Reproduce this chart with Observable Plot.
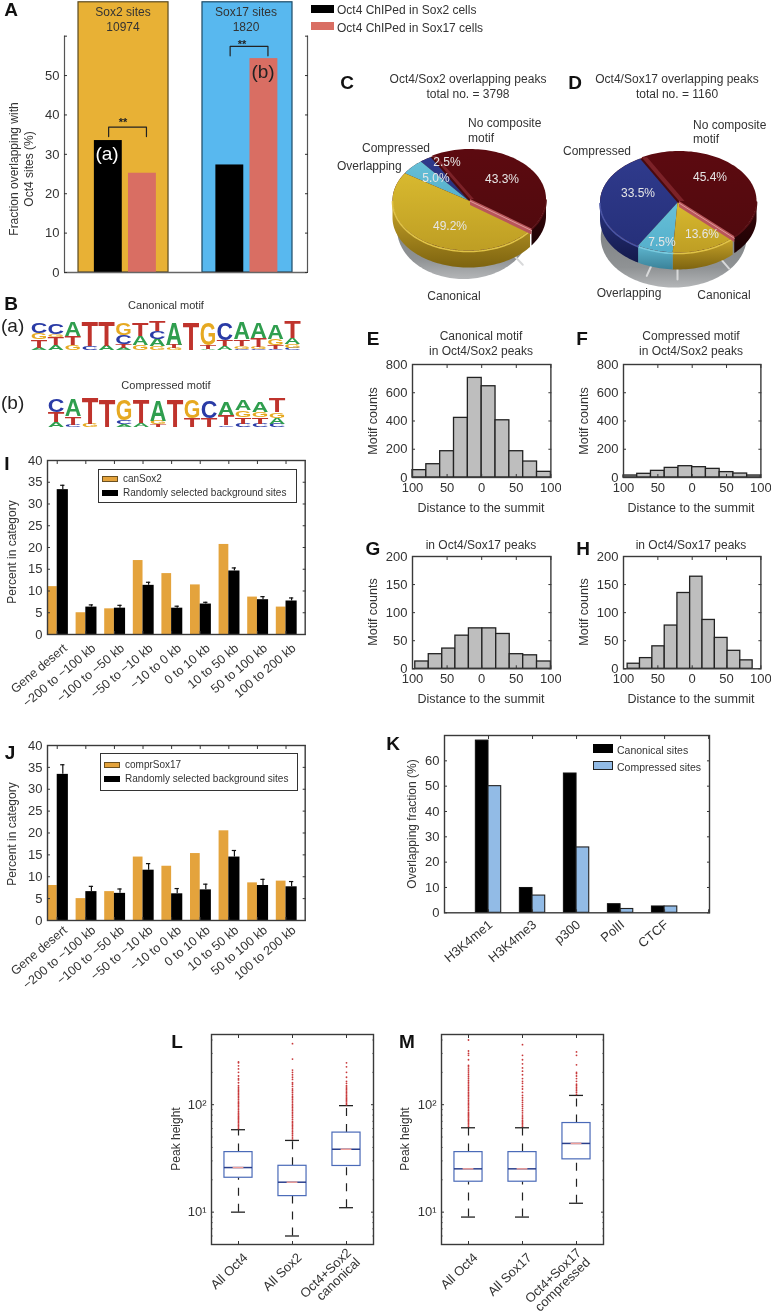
<!DOCTYPE html>
<html>
<head>
<meta charset="utf-8">
<script src="https://cdn.jsdelivr.net/npm/d3@7"></script>
<script src="https://cdn.jsdelivr.net/npm/@observablehq/plot@0.6"></script>
<style>
html,body{margin:0;padding:0;background:#fff}
#page{position:relative;width:772px;height:1314px;overflow:hidden;font-family:"Liberation Sans",Arial,sans-serif;color:#333;filter:blur(0.45px)}
#page svg{position:absolute;max-width:none;background:transparent}
.t{position:absolute;white-space:nowrap;line-height:1}
.b{position:absolute;box-sizing:border-box}
</style>
</head>
<body>
<div id="page"></div>
<script>
// ---------- data ----------
const aGroups = ["Sox2 sites", "Sox17 sites"];
const aSizes = ["10974", "1820"];
const aBlack = [33.5, 27.3];
const aRed = [25.2, 54.3];
const aBracketTop = [36.9, 57.4];
const aBracketBase = [34.5, 55];

const pieCValues = [49.2, 5.0, 2.5, 43.3];
const pieDValues = [13.6, 7.5, 33.5, 45.4];

const logoA = [
 [["C",32],["G",20],["T",25],["A",8]],
 [["C",32],["G",8],["T",25],["A",16]],
 [["A",44],["T",28],["G",15]],
 [["T",75],["C",12]],
 [["T",75],["A",14]],
 [["G",36],["C",27],["T",11],["A",8]],
 [["T",40],["A",28],["G",15]],
 [["T",30],["C",22],["A",22],["G",13]],
 [["A",66],["T",10],["G",7]],
 [["T",85]],
 [["G",68],["T",10],["A",5]],
 [["C",50],["T",18],["A",13]],
 [["A",50],["T",20],["G",8],["C",5]],
 [["A",46],["T",27],["G",6],["C",5]],
 [["A",45],["G",20],["T",10],["C",5]],
 [["T",50],["A",20],["G",10],["C",8]]
];
const logoB = [
 [["C",40],["T",30],["A",15]],
 [["A",53],["T",25],["C",7]],
 [["T",78],["G",10]],
 [["T",85]],
 [["G",62],["C",12],["A",8]],
 [["T",73],["A",12]],
 [["A",62],["G",10],["T",8]],
 [["T",85]],
 [["G",56],["T",27]],
 [["C",52],["T",27]],
 [["A",40],["T",30],["C",5]],
 [["A",30],["G",20],["T",20],["C",10]],
 [["A",33],["G",15],["T",20],["C",10]],
 [["T",43],["G",17],["A",18],["C",10]]
];

const genomicCats = ["Gene desert","\u2212200 to \u2212100 kb","\u2212100 to \u221250 kb","\u221250 to \u221210 kb","\u221210 to 0 kb","0 to 10 kb","10 to 50 kb","50 to 100 kb","100 to 200 kb"];
const iOrange = [11, 5, 5.9, 17, 14, 11.4, 20.7, 8.6, 6.3];
const iBlack = [33.3, 6.3, 6.05, 11.3, 6.05, 7, 14.6, 8, 7.7];
const iErr = [34.3, 6.8, 6.7, 12, 6.5, 7.4, 15.3, 8.7, 8.4];
const jOrange = [8, 5, 6.6, 14.5, 12.4, 15.3, 20.5, 8.6, 9];
const jBlack = [33.4, 6.6, 6.2, 11.5, 6.1, 7, 14.5, 8, 7.7];
const jErr = [35.6, 7.8, 7.2, 13, 7.3, 8.3, 16, 9.4, 8.9];

const eEdges = [-100,-80,-60,-40,-20,0,20,40,60,80,100];
const eCounts = [52,94,186,422,705,646,405,186,113,40];
const fEdges = [-100,-80,-60,-40,-20,0,20,40,60,80,100];
const fCounts = [14,26,47,68,80,73,61,38,28,14];
const gEdges = [-96,-76.5,-57,-38,-18.5,1,21,40.5,60,80,100];
const gCounts = [13,26,36,59,72,72,62,26,24,13];
const hEdges = [-94,-76,-58,-40,-21.5,-3,15,33,51.5,70,88];
const hCounts = [9,19,40,77,135,164,87,55,32,15];

const kCats = ["H3K4me1","H3K4me3","p300","PolII","CTCF"];
const kCanonical = [68, 9.8, 55, 3.4, 2.5];
const kCompressed = [50, 6.8, 25.8, 1.5, 2.5];

const lCats = ["All Oct4","All Sox2","Oct4+Sox2\ncanonical"];
const lQ1 = [20.9, 14.1, 26.9], lMed = [26, 19, 38.5], lQ3 = [36.2, 27, 55], lLo = [10, 6, 11], lHi = [58.5, 46.5, 98];
const lOut = [
 [60,62,64,66,68,70,72,74,76,78,80,82,84,87,90,93,96,99,102,105,108,112,116,120,124,128,132,136,140,145,150,160,170,175,185,200,215,230,245,250],
 [48,50,52,54,56,58,60,62,64,66,68,70,73,76,79,82,85,88,91,94,97,100,104,108,112,116,120,125,130,135,140,148,155,160,172,180,190,200,210,266,370],
 [100,103,106,109,112,115,118,122,126,130,134,138,142,146,150,158,165,180,200,225,245]
];
const mCats = ["All Oct4","All Sox17","Oct4+Sox17\ncompressed"];
const mQ1 = [19.2, 19.2, 31], mMed = [25.3, 25.3, 43.6], mQ3 = [36.2, 36.2, 67.5], mLo = [9, 9, 12.1], mHi = [61, 61, 122];
const mOut = [
 [63,65,67,69,71,73,75,77,79,81,83,85,88,91,94,97,100,103,106,110,114,118,122,126,130,135,140,145,150,156,162,168,175,182,190,198,206,215,225,232,262,288,300,316,400],
 [63,65,67,69,71,74,77,80,84,88,92,96,100,105,110,116,122,130,140,148,158,165,175,190,205,220,240,262,288,362],
 [125,130,135,140,145,150,155,165,175,185,195,200,235,288,310]
];

// ---------- helpers ----------
const page = document.getElementById("page");
const INK = "#333";
function label(text, x, y, o = {}) {
  const d = document.createElement("div");
  d.className = "t";
  d.textContent = text;
  const tx = o.anchor === "middle" ? "-50%" : o.anchor === "end" ? "-100%" : "0";
  d.style.cssText += `left:${x}px;top:${y}px;font-size:${o.size || 12}px;color:${o.color || INK};font-weight:${o.weight || "normal"};transform:translate(${tx},-50%);`;
  page.appendChild(d);
}
function vlabel(text, x, y, size = 12) {
  const d = document.createElement("div");
  d.className = "t";
  d.textContent = text;
  d.style.cssText += `left:${x}px;top:${y}px;font-size:${size}px;color:${INK};transform:translate(-50%,-50%) rotate(-90deg);`;
  page.appendChild(d);
}
const letter = (s, x, y) => label(s, x, y, {size: 19, weight: "bold", color: "#111", anchor: "middle"});
function box(x, y, w, h, fill, stroke) {
  const d = document.createElement("div");
  d.className = "b";
  d.style.cssText += `left:${x}px;top:${y}px;width:${w}px;height:${h}px;background:${fill};${stroke ? `border:1.2px solid ${stroke};` : ""}`;
  page.appendChild(d);
}
function panel(frame, scales, marks, m = {}) {
  const [l, t, r, b] = frame;
  const ml = m.left ?? 50, mr = m.right ?? 10, mt = m.top ?? 6, mb = m.bottom ?? 90;
  const p = Plot.plot({
    width: r - l + ml + mr, height: b - t + mt + mb,
    marginLeft: ml, marginRight: mr, marginTop: mt, marginBottom: mb,
    x: {axis: null, ...scales.x}, y: {axis: null, ...scales.y},
    style: {fontFamily: '"Liberation Sans",Arial,sans-serif', background: "transparent", color: INK},
    marks
  });
  p.style.left = (l - ml) + "px";
  p.style.top = (t - mt) + "px";
  page.appendChild(p);
  return p;
}
function frameAxes({xTicks, yTicks, yLabelTicks, yFormat, xFormat, yMinor, fontSize = 13, pad = 5, xPad = 6, size = -3}) {
  const out = [];
  for (const anchor of ["left", "right"]) out.push(Plot.axisY({anchor, ticks: yTicks, tickSize: size, text: null, label: null, stroke: INK}));
  for (const anchor of ["bottom", "top"]) out.push(Plot.axisX({anchor, ticks: xTicks, tickSize: size, text: null, label: null, stroke: INK}));
  if (yMinor) for (const anchor of ["left", "right"]) out.push(Plot.axisY({anchor, ticks: yMinor, tickSize: -1.5, text: null, label: null, stroke: INK}));
  out.push(Plot.axisY({anchor: "left", ticks: yLabelTicks || yTicks, tickSize: 0, tickPadding: pad, label: null, fontSize, tickFormat: yFormat || (d => d), fill: INK}));
  if (xFormat) out.push(Plot.axisX({anchor: "bottom", ticks: xTicks, tickSize: 0, tickPadding: xPad, label: null, fontSize, tickFormat: xFormat, fill: INK}));
  out.push(Plot.frame({stroke: "#3a3a3a", strokeWidth: 1.4}));
  return out;
}
const rotLabels = (cats, xs, dx, dy, fontSize = 12, rotate = -42) => Plot.text(cats, {
  x: (d, i) => xs[i], frameAnchor: "bottom", text: d => d, rotate, textAnchor: "end",
  lineAnchor: "middle", dx, dy, fontSize, fill: INK
});

// ---------- panel A ----------
(function () {
  const groupCentres = [0, 1];
  const barCentres = [0.01, 0.99];
  const rows = aGroups.map((g, i) => ({g, box: groupCentres[i], c: barCentres[i], black: aBlack[i], red: aRed[i], top: aBracketTop[i], base: aBracketBase[i]}));
  const boxColours = ["#E8B135", "#58B8EF"], boxEdges = ["#5a4a20", "#1c4a66"];
  const bracket = rows.flatMap((r, i) => [
    {i, x: r.c - 0.13, y: r.base}, {i, x: r.c - 0.13, y: r.top}, {i, x: r.c + 0.175, y: r.top}, {i, x: r.c + 0.175, y: r.base}
  ]);
  panel([64, 1, 307, 272], {x: {type: "linear", domain: [-0.476, 1.484]}, y: {domain: [0, 68.8]}}, [
    Plot.rect(rows, {x1: d => d.box - 0.363, x2: d => d.box + 0.363, y1: 0, y2: 68.6, fill: (d, i) => boxColours[i], stroke: (d, i) => boxEdges[i], strokeWidth: 1.2}),
    Plot.rect(rows, {x1: d => d.c - 0.245, x2: d => d.c - 0.02, y1: 0, y2: "black", fill: "#000"}),
    Plot.rect(rows, {x1: d => d.c + 0.03, x2: d => d.c + 0.255, y1: 0, y2: "red", fill: "#D96E63"}),
    Plot.line(bracket, {x: "x", y: "y", z: "i", stroke: "#222", strokeWidth: 1.2}),
    Plot.ruleX([-0.476, 1.484], {y1: 0, y2: 60, stroke: "#555", strokeWidth: 1.2}),
    Plot.ruleY([0], {stroke: "#666", strokeWidth: 1.5}),
    Plot.axisY({anchor: "left", ticks: [0,10,20,30,40,50,60], tickSize: -3, text: null, label: null, stroke: "#333"}),
    Plot.axisY({anchor: "right", ticks: [0,10,20,30,40,50,60], tickSize: -3, text: null, label: null, stroke: "#333"}),
    Plot.axisY({anchor: "left", ticks: [0,10,20,30,40,50], tickSize: 0, tickPadding: 5, label: null, fontSize: 13, fill: INK})
  ], {left: 30, bottom: 12, top: 1});
  letter("A", 11, 9);
  label(aGroups[0], 123, 12, {anchor: "middle"});
  label(aSizes[0], 123, 27, {anchor: "middle"});
  label(aGroups[1], 246, 12, {anchor: "middle"});
  label(aSizes[1], 246, 27, {anchor: "middle"});
  label("**", 123, 122, {anchor: "middle", size: 11, weight: "bold", color: "#222"});
  label("**", 242, 44, {anchor: "middle", size: 11, weight: "bold", color: "#222"});
  label("(a)", 107, 153, {anchor: "middle", size: 19, color: "#fff"});
  label("(b)", 263, 71, {anchor: "middle", size: 19, color: "#222"});
  vlabel("Fraction overlapping with", 14, 169);
  vlabel("Oct4 sites (%)", 29, 169);
  box(311, 5, 23, 8, "#000");
  box(311, 22, 23, 8, "#D96E63");
  label("Oct4 ChIPed in Sox2 cells", 337, 9.5);
  label("Oct4 ChIPed in Sox17 cells", 337, 27.5);
})();

// ---------- panel B ----------
function logo(cols, x0, colW, baseY, topY, units) {
  const colours = {A: "#2F9E4E", C: "#2A3BA6", G: "#E6A921", T: "#BF332C"};
  const widths = {A: 0.722, C: 0.722, G: 0.778, T: 0.611};
  const rows = cols.flatMap((stack, c) => {
    let y = 0;
    return [...stack].reverse().map(([l, h]) => {
      const r = {c, l, y0: y, h};
      y += h;
      return r;
    });
  });
  const fs = 20, pxPerUnit = (baseY - topY) / units;
  const p = panel([x0, topY, x0 + colW * cols.length, baseY], {
    x: {type: "linear", domain: [0, cols.length]}, y: {domain: [0, units]}
  }, [
    Plot.text(rows, {x: d => d.c + 0.5, y: "y0", text: "l", fill: d => colours[d.l], fontSize: fs, fontWeight: "bold", textAnchor: "middle", lineAnchor: "bottom"})
  ], {left: 6, right: 6, top: 6, bottom: 6});
  const texts = p.querySelectorAll("text");
  rows.forEach((r, k) => {
    const t = texts[k];
    const sx = colW * 0.98 / (widths[r.l] * fs);
    const sy = r.h * pxPerUnit / (0.72 * fs);
    t.setAttribute("transform", `${t.getAttribute("transform") || ""} scale(${sx.toFixed(3)},${sy.toFixed(3)})`);
  });
}
logo(logoA, 30, 16.9, 350, 320, 90);
logo(logoB, 46.7, 17, 426.5, 397, 88);
letter("B", 11, 303);
label("(a)", 1, 325, {size: 19, color: "#222"});
label("(b)", 1, 402, {size: 19, color: "#222"});
label("Canonical motif", 166, 305, {anchor: "middle", size: 11});
label("Compressed motif", 166, 385, {anchor: "middle", size: 11});

// ---------- panels C, D ----------
function pie(values, cfg) {
  const {cx, cy, rx, ry, depth, start, shadow, leaders, colours} = cfg;
  const rad = Math.PI / 180;
  const pt = (a, ox = 0, oy = 0) => ({x: Math.cos(a * rad) + ox, y: Math.sin(a * rad) + oy});
  const arc = (a0, a1, ox = 0, oy = 0) => {
    const n = Math.max(2, Math.ceil((a1 - a0) / 2));
    return d3.range(n + 1).map(i => pt(a0 + (a1 - a0) * i / n, ox, oy));
  };
  let acc = start;
  const slices = values.map((v, i) => {
    const a0 = acc;
    acc += v * 3.6;
    return {i, a0, a1: acc};
  });
  const red = slices[3];
  const off = s => s.i === 3 ? [cfg.explode[0], cfg.explode[1]] : [0, 0];
  const marks = [];
  const poly = (pts, fill) => marks.push(Plot.line(pts, {x: "x", y: "y", fill, stroke: "none"}));
  const gid = cfg.id;
  marks.push(() => {
    const svgNS = "http://www.w3.org/2000/svg";
    const defs = document.createElementNS(svgNS, "defs");
    const grad = (id, stops) => {
      const g = document.createElementNS(svgNS, "linearGradient");
      g.setAttribute("id", id); g.setAttribute("x1", 0); g.setAttribute("y1", 0); g.setAttribute("x2", 0); g.setAttribute("y2", 1);
      stops.forEach(([o, c]) => {
        const s = document.createElementNS(svgNS, "stop");
        s.setAttribute("offset", o); s.setAttribute("stop-color", c);
        g.appendChild(s);
      });
      defs.appendChild(g);
    };
    grad(gid + "shadow", [[0, "#6f7274"], [0.8, "#8f9294"], [1, "#b4b6b8"]]);
    colours.forEach((c, i) => grad(gid + "w" + i, [[0, c.wall[0]], [1, c.wall[1]]]));
    colours.forEach((c, i) => grad(gid + "t" + i, [[0, c.top[0]], [1, c.top[1]]]));
    return defs;
  });
  // shadow
  poly(arc(0, 360).map(p => ({x: shadow.x + (p.x) * shadow.rx, y: shadow.y + p.y})), `url(#${gid}shadow)`);
  marks.push(Plot.line(leaders.flatMap((a, k) => [
    {k, x: Math.cos(a * rad), y: Math.sin(a * rad) + depth},
    {k, x: Math.cos(a * rad) * 1.16, y: Math.sin(a * rad) * 1.2 + depth}
  ]), {x: "x", y: "y", z: "k", stroke: "#d8d9da", strokeWidth: 2}));
  // walls
  slices.forEach(s => {
    const [ox, oy] = off(s);
    for (const [lo, hi] of [[0, 180], [360, 540]]) {
      const a0 = Math.max(s.a0, lo), a1 = Math.min(s.a1, hi);
      if (a1 <= a0) continue;
      const topEdge = arc(a0, a1, ox, oy);
      const low = arc(a0, a1, ox, oy + depth).reverse();
      poly([...topEdge, ...low], `url(#${gid}w${s.i})`);
    }
  });
  // dark base under the tops, so the gap left by the exploded slice is closed
  poly(arc(0, 360), "#4a0a0e");
  // tops
  [3, 2, 1, 0].forEach(i => {
    const s = slices[i];
    const [ox, oy] = off(s);
    poly([{x: ox, y: oy}, ...arc(s.a0, s.a1, ox, oy)], `url(#${gid}t${i})`);
  });
  // front rim highlights
  slices.forEach(s => {
    const [ox, oy] = off(s);
    for (const [lo, hi] of [[0, 180], [360, 540]]) {
      const a0 = Math.max(s.a0, lo), a1 = Math.min(s.a1, hi);
      if (a1 <= a0) continue;
      marks.push(Plot.line(arc(a0, a1, ox, oy + 0.02), {x: "x", y: "y", stroke: colours[s.i].rim, strokeWidth: 1.6}));
    }
  });
  // cut faces of the exploded slice
  const [ox, oy] = cfg.explode;
  const rimA = pt(red.a1, ox, oy), c = {x: ox, y: oy};
  poly([c, rimA, {x: rimA.x, y: rimA.y + cfg.cut}, {x: c.x, y: c.y + cfg.cut}], "#B9565B");
  marks.push(Plot.line([{x: c.x, y: c.y + cfg.cut * 0.35}, {x: rimA.x, y: rimA.y + cfg.cut * 0.35}], {x: "x", y: "y", stroke: "#DE9A9A", strokeWidth: 1}));
  const rimB = pt(red.a0, ox, oy);
  poly([c, rimB, {x: rimB.x + cfg.band, y: rimB.y}, {x: c.x + cfg.band, y: c.y}], "#7C2228");
  const pad = 95;
  panel([cx - pad, cy - 60, cx + pad, cy + 95], {
    x: {type: "linear", domain: [-pad / rx, pad / rx]},
    y: {type: "linear", domain: [-60 / ry, 95 / ry], reverse: true}
  }, marks, {left: 0, right: 0, top: 0, bottom: 0});
}
const pieColours = [
  {top: ["#D8B92F", "#BE9E24"], wall: ["#C9A52A", "#7E6410"], rim: "#E0C347"},
  {top: ["#66C0D8", "#55AFCB"], wall: ["#5FB6CF", "#3A8299"], rim: "#7ACBDF"},
  {top: ["#2F3A8C", "#26307A"], wall: ["#2A347F", "#141A4C"], rim: "#4A55A5"},
  {top: ["#5C0A10", "#520A0E"], wall: ["#3A060A", "#1C0204"], rim: "#5A1015"}
];
pie(pieCValues, {id: "c", cx: 468, cy: 200, rx: 76, ry: 50, depth: 0.34, start: 36, colours: pieColours,
  shadow: {x: -0.065, y: 0.57, rx: 0.875}, leaders: [52], explode: [0.02, -0.03], cut: 0.12, band: 0.05});
pie(pieDValues, {id: "d", cx: 677, cy: 202, rx: 77.5, ry: 50, depth: 0.34, start: 44.6, colours: pieColours,
  shadow: {x: -0.05, y: 0.7, rx: 0.94}, leaders: [55, 90, 110], explode: [0.02, -0.03], cut: 0.12, band: 0.07});
letter("C", 347, 82);
letter("D", 575, 82);
label("Oct4/Sox2 overlapping peaks", 468, 79, {anchor: "middle"});
label("total no. = 3798", 468, 94, {anchor: "middle"});
label("Oct4/Sox17 overlapping peaks", 677, 79, {anchor: "middle"});
label("total no. = 1160", 677, 94, {anchor: "middle"});
label("No composite", 468, 123);
label("motif", 468, 138);
label("Compressed", 362, 148);
label("Overlapping", 337, 166);
label("Canonical", 454, 296, {anchor: "middle"});
label("No composite", 693, 125);
label("motif", 693, 139);
label("Compressed", 563, 151);
label("Overlapping", 629, 293, {anchor: "middle"});
label("Canonical", 724, 295, {anchor: "middle"});
const pctC = ["49.2%", "5.0%", "2.5%", "43.3%"], pctCx = [450, 436, 447, 502], pctCy = [226, 178, 162, 179];
pctC.forEach((s, i) => label(s, pctCx[i], pctCy[i], {anchor: "middle", color: "#e6e6e6"}));
const pctD = ["13.6%", "7.5%", "33.5%", "45.4%"], pctDx = [702, 662, 638, 710], pctDy = [234, 242, 193, 177];
pctD.forEach((s, i) => label(s, pctDx[i], pctDy[i], {anchor: "middle", color: "#e6e6e6"}));

// ---------- panels E-H ----------
function hist(frame, edges, counts, yMax, yTicks) {
  const rows = counts.map((n, i) => ({x1: edges[i], x2: edges[i + 1], n}));
  panel(frame, {x: {type: "linear", domain: [-100, 100]}, y: {domain: [0, yMax]}}, [
    Plot.rect(rows, {x1: "x1", x2: "x2", y1: 0, y2: "n", fill: "#BEBEBE", stroke: "#222", strokeWidth: 1.3}),
    ...frameAxes({xTicks: [-100,-50,0,50,100], yTicks, xFormat: d => Math.abs(d), fontSize: 13, pad: 5, xPad: 5})
  ], {bottom: 30});
}
hist([412.3, 364.3, 550.7, 477.3], eEdges, eCounts, 800, [0,200,400,600,800]);
hist([623.3, 364.3, 760.7, 477.3], fEdges, fCounts, 800, [0,200,400,600,800]);
hist([412.3, 556, 550.7, 668.3], gEdges, gCounts, 200, [0,50,100,150,200]);
hist([623.3, 556, 760.7, 668.3], hEdges, hCounts, 200, [0,50,100,150,200]);
letter("E", 373, 338);
letter("F", 582, 338);
letter("G", 373, 548);
letter("H", 583, 548);
label("Canonical motif", 481, 336, {anchor: "middle"});
label("in Oct4/Sox2 peaks", 481, 351, {anchor: "middle"});
label("Compressed motif", 691, 336, {anchor: "middle"});
label("in Oct4/Sox2 peaks", 691, 351, {anchor: "middle"});
label("in Oct4/Sox17 peaks", 481, 545, {anchor: "middle"});
label("in Oct4/Sox17 peaks", 691, 545, {anchor: "middle"});
for (const [x, y] of [[481, 508], [691, 508], [481, 699], [691, 699]]) label("Distance to the summit", x, y, {anchor: "middle", size: 12.5});
for (const [x, y] of [[372.5, 421], [584, 421], [372.5, 612], [584, 612]]) vlabel("Motif counts", x, y, 12.5);

// ---------- panels I, J ----------
function genomic(frame, orange, black, err, dy) {
  const rows = genomicCats.map((c, i) => ({i: i + 1, o: orange[i], b: black[i], e: err[i]}));
  panel(frame, {x: {type: "linear", domain: [0.66, 9.67]}, y: {domain: [0, 40]}}, [
    Plot.rect(rows, {x1: d => d.i - 0.34, x2: "i", y1: 0, y2: "o", fill: "#E4A33C"}),
    Plot.rect(rows, {x1: "i", x2: d => d.i + 0.39, y1: 0, y2: "b", fill: "#000"}),
    Plot.ruleX(rows, {x: d => d.i + 0.195, y1: "b", y2: "e", stroke: "#111", strokeWidth: 1.2}),
    Plot.ruleY(rows, {y: "e", x1: d => d.i + 0.12, x2: d => d.i + 0.27, stroke: "#111", strokeWidth: 1.2}),
    ...frameAxes({xTicks: rows.map(d => d.i), yTicks: [0,5,10,15,20,25,30,35,40], fontSize: 13, pad: 5}),
    rotLabels(genomicCats, rows.map(d => d.i), 8, dy, 12.5, -40)
  ], {bottom: 95});
}
genomic([47.3, 460, 305, 634], iOrange, iBlack, iErr, 12);
genomic([47.3, 745, 305, 920], jOrange, jBlack, jErr, 8);
letter("I", 7, 463);
letter("J", 10, 752);
vlabel("Percent in category", 12, 552);
vlabel("Percent in category", 12, 834);
function legendGenomic(x, y, w, h, sy1, sy2, name, ty1, ty2) {
  box(x, y, w, h, "#fff", "#333");
  box(x + 4, sy1, 16, 6, "#E4A33C", "#6b5020");
  box(x + 4, sy2, 16, 6, "#000");
  label(name, x + 25, ty1, {size: 10});
  label("Randomly selected background sites", x + 25, ty2, {size: 10});
}
legendGenomic(98, 469, 199, 34, 476, 490, "canSox2", 478.5, 492.5);
legendGenomic(100, 753, 198, 38, 762, 776, "comprSox17", 764.5, 779);

// ---------- panel K ----------
(function () {
  const rows = kCats.map((c, i) => ({i: i + 1, a: kCanonical[i], b: kCompressed[i]}));
  panel([444.3, 735, 709.3, 912.3], {x: {type: "linear", domain: [0, 6.02]}, y: {domain: [0, 70]}}, [
    Plot.rect(rows, {x1: d => d.i - 0.288, x2: "i", y1: 0, y2: "a", fill: "#000", stroke: "#111"}),
    Plot.rect(rows, {x1: "i", x2: d => d.i + 0.288, y1: 0, y2: "b", fill: "#92BBE6", stroke: "#222", strokeWidth: 1.1}),
    ...frameAxes({xTicks: [0,1,2,3,4,5,6], yTicks: [0,10,20,30,40,50,60], fontSize: 13, pad: 5}),
    rotLabels(kCats, [1,2,3,4,5], 2, 10, 13, -40)
  ], {bottom: 70});
  letter("K", 393, 743);
  vlabel("Overlapping fraction (%)", 411.7, 824);
  box(592.7, 744, 20, 9.3, "#000");
  box(592.7, 761, 20, 9.3, "#92BBE6", "#222");
  label("Canonical sites", 617, 749.5, {size: 10.5});
  label("Compressed sites", 617, 766.5, {size: 10.5});
})();

// ---------- panels L, M ----------
function boxes(frame, cats, q1, med, q3, lo, hi, out) {
  const rows = cats.map((c, i) => ({i: i + 1, q1: q1[i], med: med[i], q3: q3[i], lo: lo[i], hi: hi[i]}));
  const dots = out.flatMap((vs, i) => vs.map(v => ({i: i + 1, v})));
  panel(frame, {x: {type: "linear", domain: [0.5, 3.5]}, y: {type: "log", domain: [5, 450]}}, [
    Plot.ruleX(rows, {x: "i", y1: "q3", y2: "hi", stroke: "#222", strokeWidth: 1.2, strokeDasharray: "8 8"}),
    Plot.ruleX(rows, {x: "i", y1: "lo", y2: "q1", stroke: "#222", strokeWidth: 1.2, strokeDasharray: "8 8"}),
    Plot.ruleY(rows, {y: "hi", x1: d => d.i - 0.13, x2: d => d.i + 0.13, stroke: "#222", strokeWidth: 1.3}),
    Plot.ruleY(rows, {y: "lo", x1: d => d.i - 0.13, x2: d => d.i + 0.13, stroke: "#222", strokeWidth: 1.3}),
    Plot.dot(dots, {x: "i", y: "v", r: 0.9, fill: "#C8383A", stroke: "none"}),
    Plot.rect(rows, {x1: d => d.i - 0.26, x2: d => d.i + 0.26, y1: "q1", y2: "q3", fill: "#fff", stroke: "#4A6AB8", strokeWidth: 1.2}),
    Plot.ruleY(rows, {y: "med", x1: d => d.i - 0.26, x2: d => d.i + 0.26, stroke: "#2A3F8C", strokeWidth: 1.5}),
    Plot.ruleY(rows, {y: "med", x1: d => d.i - 0.1, x2: d => d.i + 0.1, stroke: "#F0A09A", strokeWidth: 1.5}),
    ...frameAxes({xTicks: [1,2,3], yTicks: [10,100], yMinor: [6,7,8,9,20,30,40,50,60,70,80,90,200,300,400], yFormat: d => d === 10 ? "10\u00B9" : "10\u00B2", fontSize: 13, pad: 5}),
    rotLabels(cats, [1,2,3], 7, 11, 13, -44)
  ], {bottom: 68});
}
boxes([210.7, 1034, 372.7, 1244], lCats, lQ1, lMed, lQ3, lLo, lHi, lOut);
boxes([440.7, 1034, 602.7, 1244], mCats, mQ1, mMed, mQ3, mLo, mHi, mOut);
letter("L", 177, 1041);
letter("M", 407, 1041);
vlabel("Peak height", 176, 1139);
vlabel("Peak height", 405, 1139);
</script>
</body>
</html>
